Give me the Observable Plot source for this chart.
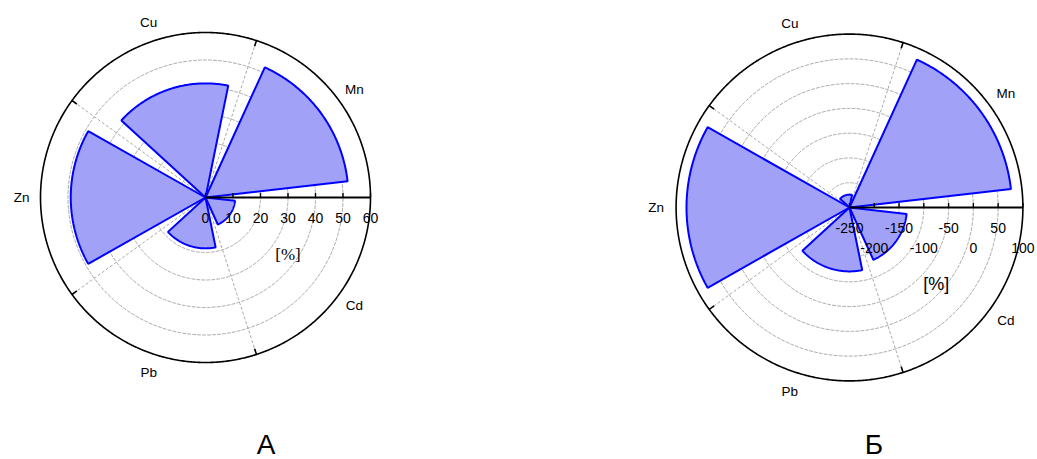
<!DOCTYPE html>
<html><head><meta charset="utf-8">
<script src="https://cdn.jsdelivr.net/npm/d3@7"></script>
<script src="https://cdn.jsdelivr.net/npm/@observablehq/plot@0.6"></script>
<style>
body{margin:0;background:#fff;font-family:"Liberation Sans",Arial,sans-serif;}
#wrap{position:relative;width:1037px;height:459px;overflow:hidden;}
.panel{position:absolute;top:0;}
.lab{position:absolute;font-size:28px;line-height:24px;transform:translateX(-50%);color:#000;}
</style></head><body>
<div id="wrap"></div>
<script>
const categories = ["Mn", "Cu", "Zn", "Pb", "Cd"];
const valuesA = [52, 41.5, 49, 18.5, 10.8];
const valuesB = [78, -224, 79, -121, -134];
const ticksA = [0, 10, 20, 30, 40, 50, 60];
const ticksB = [-250, -200, -150, -100, -50, 0, 50, 100];
const panelLabels = ["А", "Б"];
const unitLabel = "[%]";

function rad(d) { return d * Math.PI / 180; }
function pol(r, a) { return {x: r * Math.cos(rad(a)), y: r * Math.sin(rad(a))}; }

function makePanel(o) {
  const {values, ticks, width, height, cx, cy, R, pid, staggered, pctFont, pctDy} = o;
  const min = ticks[0], max = ticks[ticks.length - 1], span = max - min;
  const k = R / span;
  const n = categories.length, step = 360 / n, gap = 6.5;

  const wedges = [];
  values.forEach((v, i) => {
    const r = v - min;
    wedges.push({x: 0, y: 0, c: categories[i]});
    for (let a = i * step + gap; a <= (i + 1) * step - gap + 1e-9; a += 0.5) wedges.push({...pol(r, a), c: categories[i]});
    wedges.push({x: 0, y: 0, c: categories[i]});
  });

  const grid = [];
  ticks.slice(1, -1).forEach(t => {
    for (let a = 0; a <= 360; a += 1) grid.push({...pol(t - min, a), t});
  });
  const outer = [];
  for (let a = 0; a <= 360; a += 0.5) outer.push(pol(span, a));

  const bounds = d3.range(1, n).map(i => i * step);
  const radial = bounds.map(a => ({x1: 0, y1: 0, x2: pol(span, a).x, y2: pol(span, a).y}));
  const outerTicks = bounds.map(a => ({
    x1: pol(span * (1 - 6 / R), a).x, y1: pol(span * (1 - 6 / R), a).y,
    x2: pol(span, a).x, y2: pol(span, a).y}));

  const axisTicks = ticks.map((t, i) => ({x: t - min, t, row: staggered ? i % 2 : 0}));
  const catLabels = categories.map((c, i) => ({...pol(span * 1.115, i * step + step / 2), c}));

  const svg = Plot.plot({
    width, height,
    marginTop: 0, marginRight: 0, marginBottom: 0, marginLeft: 0,
    x: {domain: [-cx / k, (width - cx) / k], axis: null},
    y: {domain: [-(height - cy) / k, cy / k], axis: null},
    style: {overflow: "visible", background: "transparent"},
    marks: [
      Plot.line(grid, {x: "x", y: "y", z: "t", stroke: "#aaa", strokeWidth: 1, strokeDasharray: "3,2"}),
      Plot.link(radial, {x1: "x1", y1: "y1", x2: "x2", y2: "y2", stroke: "#aaa", strokeWidth: 1, strokeDasharray: "3,2"}),
      Plot.line(wedges, {x: "x", y: "y", z: "c", fill: `url(#hatch${pid})`, stroke: "#0000ff", strokeWidth: 2, strokeLinejoin: "miter"}),
      Plot.line(outer, {x: "x", y: "y", stroke: "#000", strokeWidth: 1.6}),
      Plot.link(outerTicks, {x1: "x1", y1: "y1", x2: "x2", y2: "y2", stroke: "#000", strokeWidth: 1.6}),
      Plot.link([{x1: 0, x2: span}], {x1: "x1", x2: "x2", y1: 0, y2: 0, stroke: "#000", strokeWidth: 2}),
      Plot.link(axisTicks, {x1: "x", x2: "x", y1: 0, y2: 4.5 / k, stroke: "#000", strokeWidth: 1.4}),
      Plot.text(axisTicks.filter(d => d.row === 0), {x: "x", y: 0, text: d => String(d.t), dy: 21, fontSize: 14, fontFamily: "Liberation Sans, Arial, sans-serif", fill: "#000"}),
      Plot.text(axisTicks.filter(d => d.row === 1), {x: "x", y: 0, text: d => String(d.t), dy: 41, fontSize: 14, fontFamily: "Liberation Sans, Arial, sans-serif", fill: "#000"}),
      Plot.text([unitLabel], {x: span / 2, y: 0, text: d => d, dy: pctDy, fontSize: pctFont.size, fontFamily: pctFont.family, fill: "#000"}),
      Plot.text(catLabels, {x: "x", y: "y", text: "c", fontSize: 13.5, fontFamily: "Liberation Sans, Arial, sans-serif", fill: "#000"})
    ]
  });

  const defs = d3.select(svg).insert("defs", ":first-child");
  const pat = defs.append("pattern").attr("id", `hatch${pid}`).attr("patternUnits", "userSpaceOnUse")
    .attr("width", 2).attr("height", 2);
  pat.append("rect").attr("width", 2).attr("height", 2).attr("fill", "#e8e8fd");
  pat.append("rect").attr("x", 0).attr("y", 0).attr("width", 1).attr("height", 1).attr("fill", "#5a5af2");
  pat.append("rect").attr("x", 1).attr("y", 1).attr("width", 1).attr("height", 1).attr("fill", "#5a5af2");
  return svg;
}

const wrap = document.getElementById("wrap");
const pA = makePanel({values: valuesA, ticks: ticksA, width: 518, height: 420, cx: 205, cy: 197, R: 165, pid: "A",
  staggered: false, pctFont: {size: 17, family: "Liberation Serif, Times New Roman, serif"}, pctDy: 57});
pA.classList.add("panel"); pA.style.left = "0px";
wrap.appendChild(pA);
const pB = makePanel({values: valuesB, ticks: ticksB, width: 519, height: 420, cx: 331, cy: 207, R: 173.4, pid: "B",
  staggered: true, pctFont: {size: 18, family: "Liberation Sans, Arial, sans-serif"}, pctDy: 77});
pB.classList.add("panel"); pB.style.left = "518px";
wrap.appendChild(pB);

[[panelLabels[0], 266], [panelLabels[1], 874]].forEach(([t, x]) => {
  const d = document.createElement("div");
  d.className = "lab"; d.textContent = t; d.style.left = x + "px"; d.style.top = "433px";
  wrap.appendChild(d);
});
</script>
</body></html>
